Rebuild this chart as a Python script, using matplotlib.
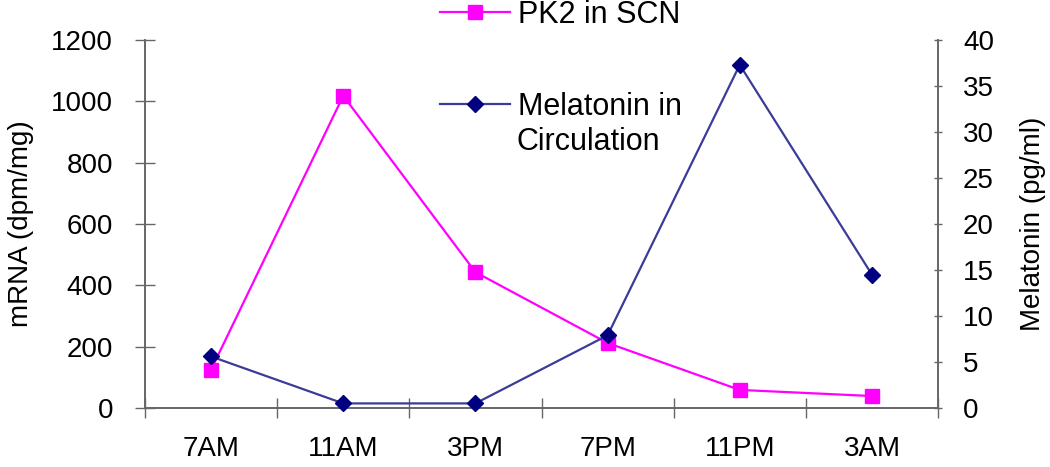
import matplotlib
matplotlib.use("Agg")
import matplotlib.pyplot as plt
from matplotlib.lines import Line2D

categories = ["7AM", "11AM", "3PM", "7PM", "11PM", "3AM"]
pk2_scn = [125, 1018, 443, 212, 59, 39]
melatonin = [5.6, 0.5, 0.5, 7.9, 37.3, 14.5]

plt.rcParams['font.family'] = ['Liberation Sans', 'DejaVu Sans']

W, H = 1050, 467
fig = plt.figure(figsize=(W / 100, H / 100), dpi=100)
ax = fig.add_axes([145 / W, 59 / H, 793 / W, 368 / H])
ax2 = ax.twinx()

x = list(range(len(categories)))
pink = '#FF00FF'
navy_line = '#3b3b98'
navy_mark = '#000080'

ax.plot(x, pk2_scn, color=pink, lw=1.6, marker='s', ms=9.5, mfc=pink, mec=pink, zorder=3, clip_on=False)
ax2.plot(x, melatonin, color=navy_line, lw=1.6, marker='D', ms=8, mfc=navy_mark, mec=navy_mark, zorder=3, clip_on=False)

ax.set_xlim(-0.5, 5.5)
ax.set_ylim(0, 1200)
ax2.set_ylim(0, 40)
ax.set_yticks(range(0, 1201, 200))
ax2.set_yticks(range(0, 41, 5))
ax.set_xticks(x)
ax.set_xticklabels(categories)
ax.set_xticks([i - 0.5 for i in range(len(categories) + 1)], minor=True)

spine_c = '#666666'
for a in (ax, ax2):
    a.spines['top'].set_visible(False)
    for s in ('left', 'right', 'bottom'):
        a.spines[s].set_color(spine_c)
        a.spines[s].set_linewidth(1.2)
fs = 20
ax.tick_params(axis='x', which='major', length=0, labelsize=20, pad=20)
ax.tick_params(axis='x', which='minor', length=14, direction='inout', color=spine_c, width=1)
ax.tick_params(axis='y', length=14, direction='inout', color=spine_c, width=1, labelsize=fs, pad=16)
ax2.tick_params(axis='y', length=6, direction='inout', color=spine_c, width=1, labelsize=fs, pad=15)

ax.set_ylabel("mRNA (dpm/mg)", fontsize=fs, labelpad=12)
ax2.set_ylabel("Melatonin (pg/ml)", fontsize=fs, labelpad=19)

lfs = 22
h1 = Line2D([], [], color=pink, lw=1.6, marker='s', ms=9.5, mfc=pink, mec=pink)
h2 = Line2D([], [], color=navy_line, lw=1.6, marker='D', ms=8, mfc=navy_mark, mec=navy_mark)
common = dict(frameon=False, fontsize=lfs, handlelength=2.3, handletextpad=0.25,
              borderpad=0, borderaxespad=0, loc='center left')
fig.legend([h1], ["PK2 in SCN"], bbox_to_anchor=(440 / W, 1 - 15 / H), **common)
fig.legend([h2], ["Melatonin in"], bbox_to_anchor=(440 / W, 1 - 107 / H), **common)
fig.text(517 / W, 1 - 142 / H, "Circulation", fontsize=lfs, va='center', ha='left')

fig.savefig("out.png", dpi=100)
